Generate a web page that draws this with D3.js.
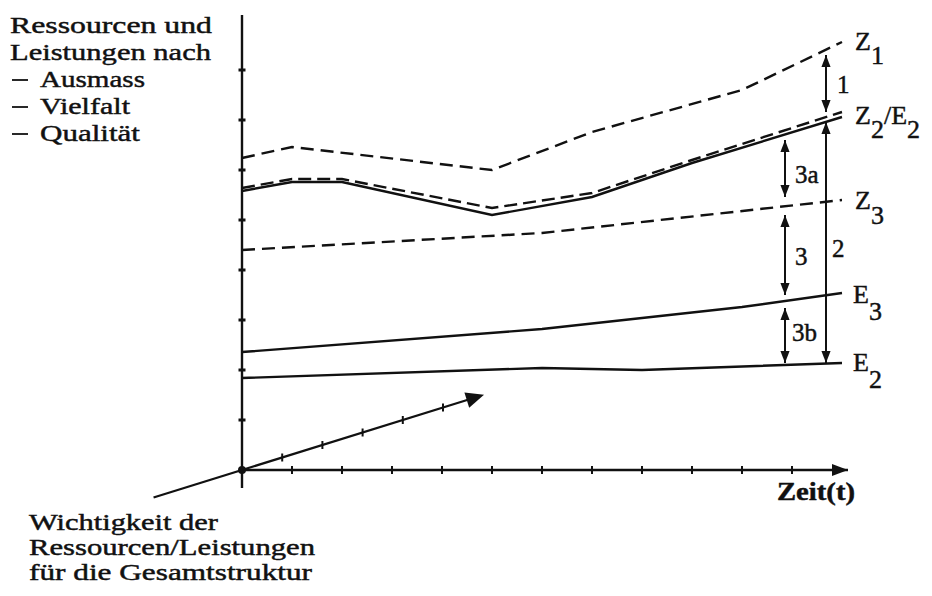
<!DOCTYPE html>
<html><head><meta charset="utf-8">
<script src="https://cdn.jsdelivr.net/npm/d3@7"></script>
<style>body{margin:0;background:#fff}svg{display:block}text{font-family:"Liberation Serif","Times New Roman",serif;fill:#111;stroke:#111;stroke-width:0.45px}</style>
</head><body><svg id="c" width="932" height="596"></svg>
<script>
// ---- data (time in tick units, value in y-tick units) ----
const z1T = [0, 1, 5, 7, 10, 12];
const z1V = [6.24, 6.46, 6.0, 6.76, 7.6, 8.56];
const z2T = [0, 1, 2, 5, 7, 9, 12];
const z2V = [5.64, 5.82, 5.82, 5.24, 5.54, 6.2, 7.16];
const e2uT = [0, 1, 2, 5, 7, 9, 12];
const e2uV = [5.58, 5.76, 5.76, 5.1, 5.46, 6.14, 7.06];
const z3T = [0, 6, 12];
const z3V = [4.4, 4.74, 5.4];
const e3T = [0, 6, 10, 12];
const e3V = [2.36, 2.82, 3.26, 3.54];
const e2T = [0, 6, 8, 12];
const e2V = [1.84, 2.04, 2.0, 2.14];
const xTicks = [1,2,3,4,5,6,7,8,9,10,11];
const yTicks = [1,2,3,4,5,6,7,8];
const zTicks = [1,2,3,4,5];
// arrows: position t, from value, to value, label
const arrowT = [11.68, 11.68, 10.86, 10.86, 10.86];
const arrowFrom = [8.3, 6.96, 6.6, 5.1, 3.24];
const arrowTo = [7.16, 2.14, 5.46, 3.5, 2.14];
const arrowLabels = ["1", "2", "3a", "3", "3b"];
const yLabelLines = ["Ressourcen und", "Leistungen nach", "Ausmass", "Vielfalt", "Qualität"];
const zLabelLines = ["Wichtigkeit der", "Ressourcen/Leistungen", "für die Gesamtstruktur"];

const svg = d3.select("#c");
const x = d3.scaleLinear().domain([0, 12]).range([242, 842]);
const y = d3.scaleLinear().domain([0, 9]).range([470, 20]);
// depth axis (oblique)
const zx = d3.scaleLinear().domain([0, 1]).range([242, 282.2]);
const zy = d3.scaleLinear().domain([0, 1]).range([470, 457.5]);

const defs = svg.append("defs");
defs.append("marker").attr("id","ah").attr("viewBox","0 0 10 10").attr("refX",10).attr("refY",5)
  .attr("markerWidth",12).attr("markerHeight",12).attr("markerUnits","userSpaceOnUse").attr("orient","auto-start-reverse")
  .append("path").attr("d","M0,1.2 L10,5 L0,8.8 Z").attr("fill","#111");

const ink = "#111";
// y axis
svg.append("line").attr("x1",x(0)).attr("x2",x(0)).attr("y1",y(-0.36)).attr("y2",y(9.1)).attr("stroke",ink).attr("stroke-width",2.4);
svg.selectAll(".yt").data(yTicks).join("line").attr("x1",x(0)-3.5).attr("x2",x(0)+3.5)
  .attr("y1",d=>y(d)).attr("y2",d=>y(d)).attr("stroke",ink).attr("stroke-width",3);
// x axis
svg.append("line").attr("x1",x(-0.05)).attr("x2",x(12.12)).attr("y1",y(0)).attr("y2",y(0)).attr("stroke",ink).attr("stroke-width",2.4);
svg.append("path").attr("d",`M${x(12.12)},${y(0)} l-16,-6 l0,12 Z`).attr("fill",ink);
svg.selectAll(".xt").data(xTicks).join("line").attr("x1",d=>x(d)).attr("x2",d=>x(d))
  .attr("y1",y(0)-4).attr("y2",y(0)+4).attr("stroke",ink).attr("stroke-width",2);
// depth axis
svg.append("line").attr("x1",zx(-2.2)).attr("y1",zy(-2.2)).attr("x2",zx(5.7)).attr("y2",zy(5.7)).attr("stroke",ink).attr("stroke-width",2.3);
svg.selectAll(".zt").data(zTicks).join("line").attr("x1",d=>zx(d)).attr("x2",d=>zx(d))
  .attr("y1",d=>zy(d)-4).attr("y2",d=>zy(d)+4).attr("stroke",ink).attr("stroke-width",2);
{
  const tx = zx(6.02), ty = zy(6.02);
  const ang = Math.atan2(zy(1)-zy(0), zx(1)-zx(0)) * 180 / Math.PI;
  svg.append("path").attr("d","M0,0 L-18,-8 L-18,8 Z").attr("fill",ink)
    .attr("transform",`translate(${tx},${ty}) rotate(${ang})`);
}
svg.append("circle").attr("cx",x(0)).attr("cy",y(0)).attr("r",4).attr("fill",ink);

// series
const line = d3.line().x(d=>x(d[0])).y(d=>y(d[1]));
const series = [
  {t:z1T, v:z1V, dash:"13,7"},
  {t:z2T, v:z2V, dash:"13,6"},
  {t:e2uT, v:e2uV, dash:null},
  {t:z3T, v:z3V, dash:"13,7"},
  {t:e3T, v:e3V, dash:null},
  {t:e2T, v:e2V, dash:null}
];
series.forEach(s => {
  svg.append("path").datum(s.t.map((t,i)=>[t, s.v[i]])).attr("d", line)
    .attr("fill","none").attr("stroke",ink).attr("stroke-width",2.4)
    .attr("stroke-dasharray", s.dash);
});

// double arrows
arrowT.forEach((t,i) => {
  svg.append("line").attr("x1",x(t)).attr("x2",x(t)).attr("y1",y(arrowFrom[i])).attr("y2",y(arrowTo[i]))
    .attr("stroke",ink).attr("stroke-width",2)
    .attr("marker-start","url(#ah)").attr("marker-end","url(#ah)");
});
const alPos = [[837,93],[832,257],[795,183],[795,265],[792,341]];
arrowLabels.forEach((l,i) => {
  svg.append("text").attr("x",alPos[i][0]).attr("y",alPos[i][1]).attr("font-size",25).text(l);
});

// right labels
function sublabel(xp, yp, parts){
  const t = svg.append("text").attr("x",xp).attr("y",yp).attr("font-size",26);
  parts.forEach(p => {
    t.append("tspan").attr("dy",p[1]).text(p[0]);
  });
}
sublabel(855, 50, [["Z",0],["1",14]]);
sublabel(855, 124, [["Z",0],["2",14],["/",-14],["E",0],["2",14]]);
sublabel(855, 209, [["Z",0],["3",15]]);
sublabel(853, 303, [["E",0],["3",17]]);
sublabel(853, 371, [["E",0],["2",17]]);

// axis titles
const fitText = (txt, xp, yp, w, fs) => {
  svg.append("text").attr("x",xp).attr("y",yp).attr("font-size",fs)
    .attr("textLength",w).attr("lengthAdjust","spacingAndGlyphs").text(txt);
};
fitText(yLabelLines[0], 10, 33, 202, 24);
fitText(yLabelLines[1], 10, 60, 201, 24);
[2,3,4].forEach((k,j) => {
  const yb = 87 + j*27;
  svg.append("line").attr("x1",12).attr("x2",28).attr("y1",yb-7).attr("y2",yb-7).attr("stroke",ink).attr("stroke-width",1.8);
});
fitText(yLabelLines[2], 40, 87, 105, 24);
fitText(yLabelLines[3], 40, 114, 90, 24);
fitText(yLabelLines[4], 40, 141, 100, 24);

fitText(zLabelLines[0], 29, 530, 189, 22.5);
fitText(zLabelLines[1], 29, 555, 286, 22.5);
fitText(zLabelLines[2], 29, 580, 283, 22.5);

svg.append("text").attr("x",777).attr("y",500).attr("font-size",25).attr("font-weight","bold")
  .attr("textLength",78).attr("lengthAdjust","spacingAndGlyphs").text("Zeit(t)");
</script></body></html>
